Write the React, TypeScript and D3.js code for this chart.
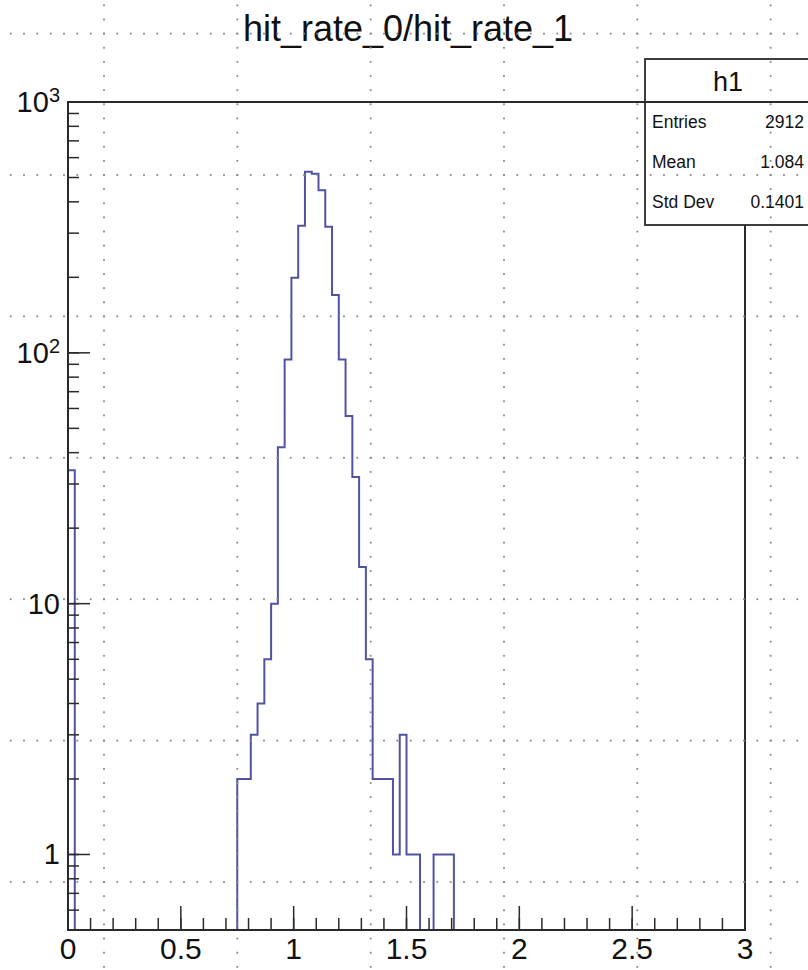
import React from "react";
import * as d3 from "d3";

// Histogram h1: 100 bins of width 0.03 on [0, 3]; only filled bins are listed
const binWidth = 0.03;
const binLows = [
  0.0, 0.75, 0.78, 0.81, 0.84, 0.87, 0.9, 0.93, 0.96, 0.99, 1.02, 1.05, 1.08,
  1.11, 1.14, 1.17, 1.2, 1.23, 1.26, 1.29, 1.32, 1.35, 1.38, 1.41, 1.44, 1.47,
  1.5, 1.53, 1.62, 1.65, 1.68,
];
const counts = [
  34, 2, 2, 3, 4, 6, 10, 42, 94, 199, 321, 527, 518, 445, 318, 170, 94, 56, 32,
  14, 6, 2, 2, 2, 1, 3, 1, 1, 1, 1, 1,
];

const xTickLabels = ["0", "0.5", "1", "1.5", "2", "2.5", "3"];
const yDecades = [1, 10, 100, 1000];
const statsRows = [
  ["Entries", "2912"],
  ["Mean", "1.084"],
  ["Std Dev", "0.1401"],
];
const title = "hit_rate_0/hit_rate_1";
const histName = "h1";

const W = 808;
const H = 970;
const frame = { left: 68, right: 745, top: 102, bottom: 930 };
const lineColor = "#5252a2";
const axisColor = "#2a2a2a";
const font = "'Liberation Sans', Arial, Helvetica, sans-serif";

export default function App() {
  const x = d3.scaleLinear().domain([0, 3]).range([frame.left, frame.right]);
  const y = d3.scaleLog().domain([0.5, 1000]).range([frame.bottom, frame.top]);

  const nBins = Math.round(3 / binWidth);
  const byBin = new Map<number, number>();
  binLows.forEach((lo, i) => byBin.set(Math.round(lo / binWidth), counts[i]));

  // Step outline; empty bins fall to the bottom of the frame
  const below = frame.bottom + 5;
  let d = `M${x(0)},${below}`;
  for (let i = 0; i < nBins; i++) {
    const v = byBin.get(i) ?? 0;
    const yy = v > 0 ? y(v) : below;
    d += `L${x(i * binWidth)},${yy}L${x((i + 1) * binWidth)},${yy}`;
  }
  d += `L${x(3)},${below}`;

  const xMajor = x.ticks(6);
  const xMinor = d3.range(0, 31).map((k) => k / 10);
  const yMinor = y.ticks().filter((t) => t >= 0.5 && t <= 1000);

  const statsBox = { left: 645, right: 811, top: 59, header: 102, bottom: 225 };

  // dotted overlay grid
  const gx0 = 104,
    gdx = 133.33,
    gy0 = 33.6,
    gdy = 141.4;
  const dots: [number, number][] = [];
  for (let c = 0; c < 6; c++) {
    const cx = gx0 + c * gdx;
    for (let yy = gy0 - 2 * (gdy / 10); yy < H; yy += gdy / 10) dots.push([cx, yy]);
  }
  for (let r = 0; r < 7; r++) {
    const ry = gy0 + r * gdy;
    for (let xx = gx0 - 7 * (gdx / 10); xx < W; xx += gdx / 10) dots.push([xx, ry]);
  }

  return (
    <svg
      width={W}
      height={H}
      style={{ position: "absolute", left: 0, top: 0, background: "#fff" }}
      fontFamily={font}
    >
      <rect x={0} y={0} width={W} height={H} fill="#fff" />
      <defs>
        <clipPath id="frameClip">
          <rect
            x={frame.left}
            y={frame.top}
            width={frame.right - frame.left}
            height={frame.bottom - frame.top}
          />
        </clipPath>
      </defs>

      {/* histogram */}
      <path
        d={d}
        fill="none"
        stroke={lineColor}
        strokeWidth={2}
        clipPath="url(#frameClip)"
      />

      {/* frame */}
      <rect
        x={frame.left}
        y={frame.top}
        width={frame.right - frame.left}
        height={frame.bottom - frame.top}
        fill="none"
        stroke={axisColor}
        strokeWidth={2}
      />

      {/* x ticks */}
      {xMinor.map((t, i) => (
        <line
          key={`xm${i}`}
          x1={x(t)}
          x2={x(t)}
          y1={frame.bottom}
          y2={frame.bottom - 12}
          stroke={axisColor}
          strokeWidth={1.5}
        />
      ))}
      {xMajor.map((t, i) => (
        <line
          key={`xM${i}`}
          x1={x(t)}
          x2={x(t)}
          y1={frame.bottom}
          y2={frame.bottom - 24}
          stroke={axisColor}
          strokeWidth={1.5}
        />
      ))}
      {xMajor.map((t, i) => (
        <text
          key={`xl${i}`}
          x={x(t)}
          y={frame.bottom + 29}
          fontSize={30}
          textAnchor="middle"
          fill="#111"
        >
          {xTickLabels[i]}
        </text>
      ))}

      {/* y ticks */}
      {yMinor.map((t, i) => (
        <line
          key={`ym${i}`}
          x1={frame.left}
          x2={frame.left + 11}
          y1={y(t)}
          y2={y(t)}
          stroke={axisColor}
          strokeWidth={1.5}
        />
      ))}
      {yDecades.map((t, i) => (
        <line
          key={`yM${i}`}
          x1={frame.left}
          x2={frame.left + 22}
          y1={y(t)}
          y2={y(t)}
          stroke={axisColor}
          strokeWidth={1.5}
        />
      ))}
      {yDecades.map((t, i) => {
        const e = Math.round(Math.log10(t));
        const yy = y(t) + 10;
        if (e <= 1) {
          return (
            <text
              key={`yl${i}`}
              x={frame.left - 8}
              y={yy}
              fontSize={29}
              textAnchor="end"
              fill="#111"
            >
              {e === 0 ? "1" : "10"}
            </text>
          );
        }
        return (
          <text
            key={`yl${i}`}
            x={frame.left - 8}
            y={yy}
            fontSize={29}
            textAnchor="end"
            fill="#111"
          >
            10
            <tspan fontSize={20} dy={-10}>
              {e}
            </tspan>
          </text>
        );
      })}

      {/* stats box */}
      <rect
        x={statsBox.left}
        y={statsBox.top}
        width={statsBox.right - statsBox.left}
        height={statsBox.bottom - statsBox.top}
        fill="#fff"
        stroke={axisColor}
        strokeWidth={1.8}
      />
      <line
        x1={statsBox.left}
        x2={statsBox.right}
        y1={statsBox.header}
        y2={statsBox.header}
        stroke={axisColor}
        strokeWidth={1.8}
      />
      <text
        x={(statsBox.left + statsBox.right) / 2}
        y={91}
        fontSize={27}
        textAnchor="middle"
        fill="#111"
      >
        {histName}
      </text>
      {statsRows.map(([k, v], i) => (
        <g key={k}>
          <text x={652} y={128 + i * 40} fontSize={17.5} fill="#111">
            {k}
          </text>
          <text x={804} y={128 + i * 40} fontSize={17.5} textAnchor="end" fill="#111">
            {v}
          </text>
        </g>
      ))}

      {/* title */}
      <text x={408} y={41} fontSize={36} textAnchor="middle" fill="#111">
        {title}
      </text>

      {/* dotted grid overlay */}
      <g fill="#888">
        {dots.map(([dx, dy], i) => (
          <rect key={i} x={dx - 0.9} y={dy - 0.9} width={1.8} height={1.8} />
        ))}
      </g>
    </svg>
  );
}
